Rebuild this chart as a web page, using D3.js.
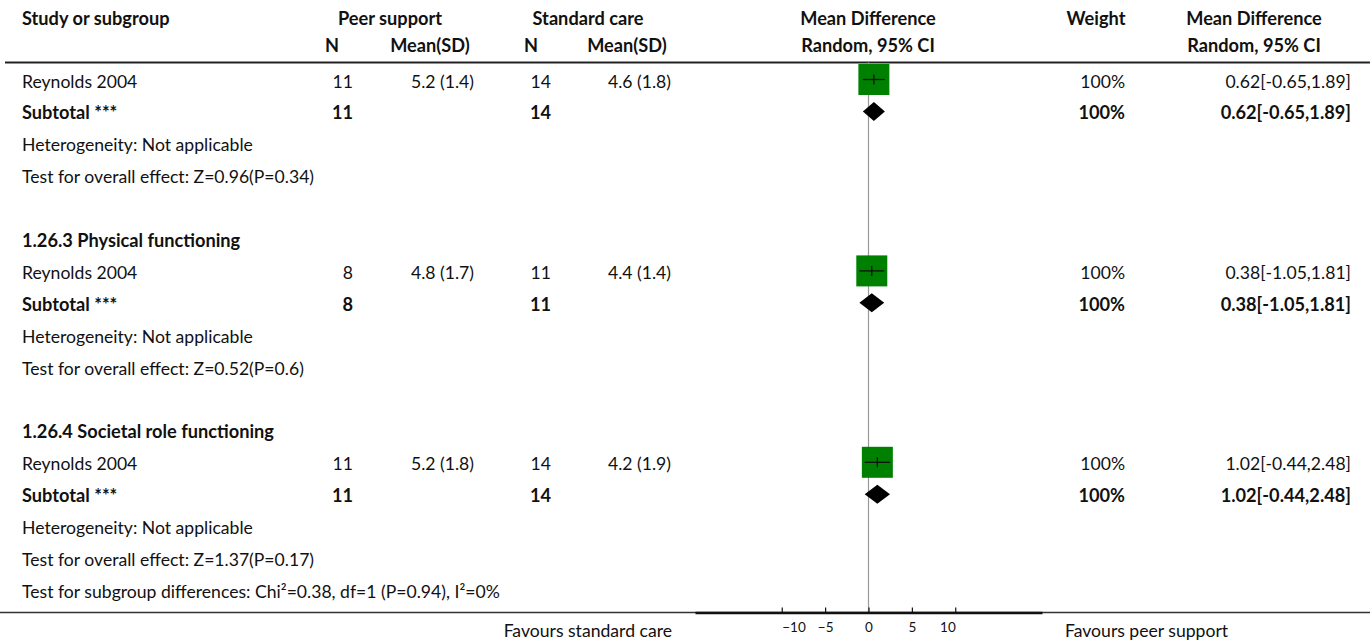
<!DOCTYPE html>
<html>
<head>
<meta charset="utf-8">
<script src="https://cdn.jsdelivr.net/npm/d3@7"></script>
<style>
  html, body { margin: 0; padding: 0; background: #fff; }
  svg { display: block; }
  text { font-family: Lato, "Noto Sans", sans-serif; fill: #111; }
</style>
</head>
<body>
<svg id="chart" width="1370" height="644"></svg>
<script>
// ---- data ----
const subgroupTitles = [null, "1.26.3 Physical functioning", "1.26.4 Societal role functioning"];
const studyNames = ["Reynolds 2004", "Reynolds 2004", "Reynolds 2004"];
const peerN = [11, 8, 11];
const peerMean = [5.2, 4.8, 5.2];
const peerSD = [1.4, 1.7, 1.8];
const careN = [14, 11, 14];
const careMean = [4.6, 4.4, 4.2];
const careSD = [1.8, 1.4, 1.9];
const meanDiff = [0.62, 0.38, 1.02];
const ciLower = [-0.65, -1.05, -0.44];
const ciUpper = [1.89, 1.81, 2.48];
const weights = [100, 100, 100];
const overallZ = ["0.96", "0.52", "1.37"];
const overallP = ["0.34", "0.6", "0.17"];
const subgroupTest = "Test for subgroup differences: Chi\u00B2=0.38, df=1 (P=0.94), I\u00B2=0%";
const axisTicks = [-10, -5, 0, 5, 10];
const axisDomain = [-20, 20];
const favoursLeft = "Favours standard care";
const favoursRight = "Favours peer support";

// ---- layout ----
const W = 1370;
const FS = 17.6, FS_BOLD = 18.2;
const rowTop = 79.5, rowStep = 31.9;
const col = {
  study: 22, peerN: 353, peerMean: 474, careN: 551, careMean: 671,
  weight: 1125, ci: 1351
};
const plotLeft = 695, plotRight = 1042;
const headerLine = 62.5, axisY = 612.5;

const svg = d3.select("#chart");
const x = d3.scaleLinear().domain(axisDomain).range([plotLeft, plotRight]);

// build row list
const rows = [];
subgroupTitles.forEach((title, g) => {
  if (g > 0) rows.push({ type: "blank" });
  if (title) rows.push({ type: "title", g });
  rows.push({ type: "study", g });
  rows.push({ type: "subtotal", g });
  rows.push({ type: "het", g });
  rows.push({ type: "overall", g });
});
rows.push({ type: "subgroupTest" });
rows.forEach((r, i) => r.y = rowTop + i * rowStep);

// text helper: y is the row centre
function txt(xp, y, s, opts = {}) {
  return svg.append("text")
    .attr("x", xp).attr("y", y + 8)
    .attr("font-size", opts.size || (opts.bold ? FS_BOLD : FS))
    .attr("font-weight", opts.bold ? "bold" : "normal")
    .attr("text-anchor", opts.anchor || "start")
    .text(s);
}
const ciText = g => `${meanDiff[g].toFixed(2)}[${ciLower[g].toFixed(2)},${ciUpper[g].toFixed(2)}]`;

// header
const h1 = 17, h2 = 44;
txt(col.study, h1, "Study or subgroup", { bold: true });
txt(390, h1, "Peer support", { bold: true, anchor: "middle" });
txt(588, h1, "Standard care", { bold: true, anchor: "middle" });
txt(868, h1, "Mean Difference", { bold: true, anchor: "middle" });
txt(1096, h1, "Weight", { bold: true, anchor: "middle" });
txt(1254, h1, "Mean Difference", { bold: true, anchor: "middle" });
txt(332, h2, "N", { bold: true, anchor: "middle" });
txt(430, h2, "Mean(SD)", { bold: true, anchor: "middle" });
txt(531, h2, "N", { bold: true, anchor: "middle" });
txt(627, h2, "Mean(SD)", { bold: true, anchor: "middle" });
txt(868, h2, "Random, 95% CI", { bold: true, anchor: "middle" });
txt(1254, h2, "Random, 95% CI", { bold: true, anchor: "middle" });

svg.append("line").attr("x1", 5).attr("x2", W).attr("y1", headerLine).attr("y2", headerLine)
  .attr("stroke", "#222").attr("stroke-width", 2);

// zero line
svg.append("line").attr("x1", x(0)).attr("x2", x(0)).attr("y1", headerLine).attr("y2", axisY)
  .attr("stroke", "#999").attr("stroke-width", 1.2);

// rows
rows.forEach(r => {
  const g = r.g, y = r.y;
  if (r.type === "title") {
    txt(col.study, y, subgroupTitles[g], { bold: true });
  } else if (r.type === "study") {
    txt(col.study, y, studyNames[g]);
    txt(col.peerN, y, peerN[g], { anchor: "end" });
    txt(col.peerMean, y, `${peerMean[g].toFixed(1)} (${peerSD[g].toFixed(1)})`, { anchor: "end" });
    txt(col.careN, y, careN[g], { anchor: "end" });
    txt(col.careMean, y, `${careMean[g].toFixed(1)} (${careSD[g].toFixed(1)})`, { anchor: "end" });
    txt(col.weight, y, weights[g] + "%", { anchor: "end" });
    txt(col.ci, y, ciText(g), { anchor: "end" });
    const s = Math.sqrt(weights[g] / 100) * 31;
    svg.append("rect").attr("x", x(meanDiff[g]) - s / 2).attr("y", y - s / 2)
      .attr("width", s).attr("height", s).attr("fill", "#008000");
    svg.append("line").attr("x1", x(ciLower[g])).attr("x2", x(ciUpper[g]))
      .attr("y1", y).attr("y2", y).attr("stroke", "#111").attr("stroke-width", 1.3);
    svg.append("line").attr("x1", x(meanDiff[g])).attr("x2", x(meanDiff[g]))
      .attr("y1", y - 5).attr("y2", y + 5).attr("stroke", "#111").attr("stroke-width", 1.3);
  } else if (r.type === "subtotal") {
    txt(col.study, y, "Subtotal ***", { bold: true });
    txt(col.peerN, y, peerN[g], { anchor: "end", bold: true });
    txt(col.careN, y, careN[g], { anchor: "end", bold: true });
    txt(col.weight, y, weights[g] + "%", { anchor: "end", bold: true });
    txt(col.ci, y, ciText(g), { anchor: "end", bold: true });
    const d = 9.5;
    svg.append("path")
      .attr("d", `M${x(ciLower[g])},${y}L${x(meanDiff[g])},${y - d}L${x(ciUpper[g])},${y}L${x(meanDiff[g])},${y + d}Z`)
      .attr("fill", "#000");
  } else if (r.type === "het") {
    txt(col.study, y, "Heterogeneity: Not applicable");
  } else if (r.type === "overall") {
    txt(col.study, y, `Test for overall effect: Z=${overallZ[g]}(P=${overallP[g]})`);
  } else if (r.type === "subgroupTest") {
    txt(col.study, y, subgroupTest);
  }
});

// bottom rule and axis
svg.append("line").attr("x1", 0).attr("x2", W).attr("y1", axisY).attr("y2", axisY)
  .attr("stroke", "#333").attr("stroke-width", 1.5);

const axis = svg.append("g").attr("transform", `translate(0,${axisY})`)
  .call(d3.axisBottom(x).tickValues(axisTicks).tickSize(-5).tickSizeOuter(0).tickPadding(10));
axis.select(".domain").attr("stroke", "#111").attr("stroke-width", 2.5);
axis.selectAll(".tick line").attr("stroke", "#111").attr("stroke-width", 1.2);
axis.selectAll(".tick text")
  .attr("font-family", "Lato, 'Noto Sans', sans-serif").attr("font-size", 13.5).attr("fill", "#111")
  .attr("text-anchor", d => d === axisDomain[0] / 2 ? "start" : d === axisDomain[1] / 2 ? "end" : "middle");

txt(672, 629, favoursLeft, { anchor: "end" });
txt(1065, 629, favoursRight);
</script>
</body>
</html>
